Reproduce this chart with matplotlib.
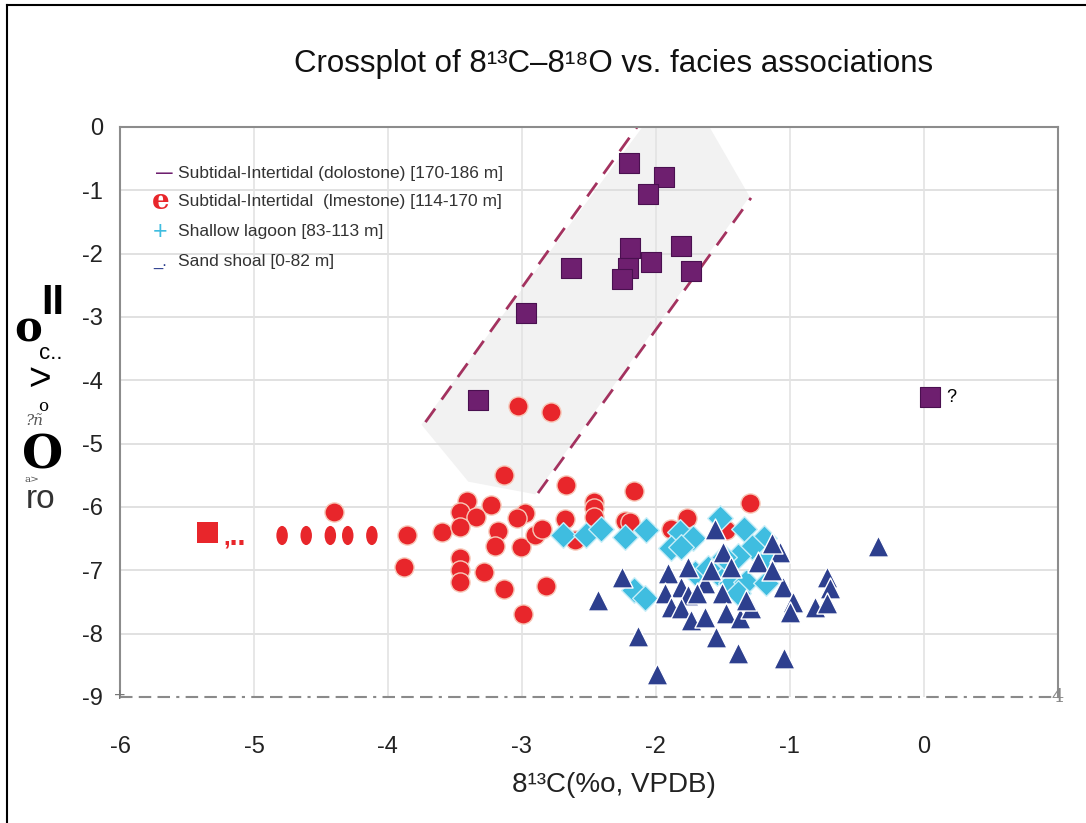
import numpy as np
import matplotlib
matplotlib.use("Agg")
import matplotlib.pyplot as plt
from matplotlib.path import Path
from matplotlib.patches import Polygon
from matplotlib.lines import Line2D

plt.rcParams["font.family"] = ["Liberation Sans", "DejaVu Sans"]
plt.rcParams["axes.unicode_minus"] = False

# dolostone (purple squares)
DOLO_X = [-2.20, -1.94, -2.06, -2.19, -1.81, -2.04, -2.21, -2.25, -1.74, -2.63, -2.97, -3.33, 0.05]
DOLO_Y = [-0.57, -0.79, -1.06, -1.91, -1.88, -2.13, -2.23, -2.40, -2.27, -2.23, -2.94, -4.31, -4.27]

# limestone (red circles)
LIME_X = [-3.03, -2.78, -3.13, -2.67, -2.16, -1.30, -3.41, -3.23, -3.46, -3.34, -3.60, -3.46,
          -3.18, -3.20, -3.01, -2.98, -3.04, -2.90, -2.85, -2.68, -2.60, -2.46, -2.46, -2.46,
          -2.23, -2.19, -1.89, -1.77, -1.48, -3.46, -3.46, -3.46, -3.28, -3.13, -2.82, -2.99,
          -4.40, -3.86, -3.88]
LIME_Y = [-4.41, -4.50, -5.50, -5.66, -5.75, -5.94, -5.91, -5.97, -6.08, -6.16, -6.40, -6.32,
          -6.38, -6.62, -6.63, -6.10, -6.18, -6.45, -6.34, -6.19, -6.52, -5.92, -6.02, -6.16,
          -6.22, -6.24, -6.34, -6.18, -6.37, -6.81, -7.00, -7.19, -7.03, -7.30, -7.25, -7.69,
          -6.08, -6.45, -6.95]
# the squeezed red dots and the red square on the far left
ELL_X = [-4.79, -4.61, -4.43, -4.30, -4.12]
ELL_Y = [-6.45, -6.45, -6.45, -6.45, -6.45]
RSQ_X, RSQ_Y = [-5.35], [-6.41]

# shallow lagoon (cyan diamonds)
LAG_X = [-2.69, -2.52, -2.41, -2.23, -2.07, -1.82, -1.72, -1.89, -1.81, -1.52, -1.34, -1.19,
         -1.28, -1.39, -1.16, -1.71, -1.54, -1.61, -1.44, -1.33, -1.18, -1.39, -2.16, -2.08, -1.49]
LAG_Y = [-6.45, -6.45, -6.34, -6.48, -6.37, -6.40, -6.49, -6.65, -6.63, -6.18, -6.34, -6.49,
         -6.63, -6.77, -6.81, -7.05, -7.05, -6.97, -7.20, -7.19, -7.20, -7.36, -7.31, -7.44, -6.79]

# sand shoal (dark blue triangles)
SHO_X = [-2.25, -2.43, -2.13, -1.99, -1.56, -1.50, -1.07, -1.13, -1.91, -1.81, -1.93, -1.76,
         -1.63, -1.69, -1.51, -1.89, -1.81, -1.74, -1.63, -1.48, -1.37, -1.29, -1.55, -1.39,
         -1.04, -1.05, -0.98, -1.00, -0.81, -0.72, -0.70, -0.72, -1.44, -1.24, -1.13, -1.59,
         -1.76, -0.34, -1.33]
SHO_Y = [-7.11, -7.47, -8.03, -8.63, -6.34, -6.71, -6.71, -6.57, -7.05, -7.26, -7.36, -7.39,
         -7.20, -7.36, -7.36, -7.58, -7.60, -7.79, -7.74, -7.68, -7.76, -7.60, -8.06, -8.31,
         -8.39, -7.27, -7.50, -7.66, -7.58, -7.11, -7.28, -7.52, -6.95, -6.87, -7.00, -7.00,
         -6.95, -6.62, -7.47]

# dashed trend lines and grey band
UPPER_X, UPPER_Y = [-3.72, -2.13], [-4.66, 0.03]
LOWER_X, LOWER_Y = [-2.88, -1.29], [-5.78, -1.12]
BAND_X = [-3.75, -2.10, -1.60, -1.30, -2.90, -3.40]
BAND_Y = [-4.70, 0.00, 0.00, -1.10, -5.80, -5.60]

XTICKS = [-6, -5, -4, -3, -2, -1, 0]
YTICKS = [0, -1, -2, -3, -4, -5, -6, -7, -8, -9]

PURPLE, RED, CYAN, NAVY = "#6e1f6f", "#e8262b", "#3fbde0", "#2d3f8e"

fig = plt.figure(figsize=(10.86, 8.23), dpi=100)
ax = fig.add_axes([0.1105, 0.1531, 0.8635, 0.6926])
ax.set_xlim(-6, 1)
ax.set_ylim(-9, 0)

ax.add_patch(Polygon(list(zip(BAND_X, BAND_Y)), closed=True, fc="#f2f2f2", ec="none", zorder=0))
for gy in YTICKS[1:-1]:
    ax.axhline(gy, color="#dcdcdc", lw=1.2, zorder=0.5)
for gx in XTICKS[1:]:
    ax.axvline(gx, color="#e3e3e3", lw=1.2, zorder=0.5)

dash = (0, (6, 4))
ax.plot(UPPER_X, UPPER_Y, color="#a3325f", lw=2, ls=dash, zorder=1)
ax.plot(LOWER_X, LOWER_Y, color="#a3325f", lw=2, ls=dash, zorder=1)

ax.scatter(LIME_X, LIME_Y, s=190, marker="o", c=RED, edgecolors="#f7c8b8", linewidths=1, zorder=3)
ax.scatter(LAG_X, LAG_Y, s=170, marker="D", c=CYAN, edgecolors="#c8eef8", linewidths=1, zorder=4)
ax.scatter(SHO_X, SHO_Y, s=230, marker="^", c=NAVY, edgecolors="white", linewidths=1, zorder=5)
ax.scatter(DOLO_X, DOLO_Y, s=200, marker="s", c=PURPLE, edgecolors="#4a1050", linewidths=0.8, zorder=6)
ax.text(DOLO_X[-1] + 0.12, DOLO_Y[-1], "?", fontsize=13, va="center", ha="left")

# squeezed dots on the left
circ = Path.unit_circle()
ell = Path(circ.vertices * np.array([0.6, 1.0]), circ.codes)
ax.scatter(ELL_X, ELL_Y, s=190, marker=ell, c=RED, edgecolors="none", zorder=3)
ax.scatter(RSQ_X, RSQ_Y, s=230, marker="s", c=RED, edgecolors="none", zorder=3)
ax.text(RSQ_X[0] + 0.12, RSQ_Y[0] - 0.08, ",\u2025", color=RED, fontsize=17,
        fontweight="bold", va="center", ha="left")

ax.set_xticks(XTICKS)
ax.set_yticks(YTICKS)
ax.tick_params(axis="both", length=0, labelsize=17, colors="#222222")
ax.tick_params(axis="x", pad=28)
ax.tick_params(axis="y", pad=12)

for side in ["top", "right", "left"]:
    ax.spines[side].set_color("#8c8c8c")
    ax.spines[side].set_linewidth(1.5)
ax.spines["bottom"].set_visible(False)
ax.plot([-6, 1], [-9, -9], color="#8a8a8a", lw=1.5,
        ls=(0, (6, 3, 6, 3, 6, 3, 1.5, 3)), clip_on=False, zorder=2)
ax.text(-6.0, -9, "+", color="#777777", fontsize=14, ha="center", va="center")
ax.text(1.0, -9, "4", color="#888888", fontsize=14, ha="center", va="center",
        family="DejaVu Serif")

# legend drawn as text
lx, lys = 0.062, [0.918, 0.869, 0.816, 0.764]
ax.text(0.047, lys[0], "\u2014", color=PURPLE, fontsize=12, fontweight="bold",
        transform=ax.transAxes, ha="center", va="center")
ax.text(0.043, lys[1], "e", color=RED, fontsize=20, fontweight="bold", family="DejaVu Serif",
        transform=ax.transAxes, ha="center", va="center")
ax.text(0.043, lys[2], "+", color=CYAN, fontsize=18,
        transform=ax.transAxes, ha="center", va="center")
ax.text(0.043, lys[3], "_.", color=NAVY, fontsize=12,
        transform=ax.transAxes, ha="center", va="center")
LEG_LABELS = ["Subtidal-Intertidal (dolostone) [170-186 m]",
              "Subtidal-Intertidal  (lmestone) [114-170 m]",
              "Shallow lagoon [83-113 m]",
              "Sand shoal [0-82 m]"]
for y, t in zip(lys, LEG_LABELS):
    ax.text(lx, y, t, fontsize=12.5, color="#333333", transform=ax.transAxes,
            ha="left", va="center")

fig.text(0.565, 0.922, "Crossplot of 8\u00b9\u00b3C\u20138\u00b9\u2078O vs. facies associations",
         fontsize=22.5, ha="center", va="center", color="#111111")
fig.text(0.565, 0.046, "8\u00b9\u00b3C(%o, VPDB)", fontsize=20, ha="center", va="center",
         color="#222222")

# garbled y label pieces
fig.text(0.013, 0.600, "o", fontsize=30, family="DejaVu Serif", fontweight="bold", va="center")
fig.text(0.038, 0.632, "II", fontsize=30, fontweight="bold", va="center")
fig.text(0.036, 0.570, "c..", fontsize=16, va="center")
fig.text(0.026, 0.538, ">", fontsize=28, va="center")
fig.text(0.035, 0.506, "o", fontsize=12, family="DejaVu Serif", va="center")
fig.text(0.023, 0.489, "?ñ", fontsize=11, family="DejaVu Serif", style="italic",
         color="#555555", va="center")
fig.text(0.020, 0.447, "O", fontsize=34, family="DejaVu Serif", fontweight="bold", va="center")
fig.text(0.023, 0.417, "a>", fontsize=7.5, family="DejaVu Serif", color="#555555", va="center")
fig.text(0.024, 0.393, "ro", fontsize=24, va="center", color="#333333")

# page border (left and top)
fig.add_artist(Line2D([0.0065, 0.0065], [0.0, 0.994], color="black", lw=1.5,
                      transform=fig.transFigure))
fig.add_artist(Line2D([0.0065, 1.0], [0.994, 0.994], color="black", lw=1.5,
                      transform=fig.transFigure))

fig.savefig("out.png", dpi=100)
